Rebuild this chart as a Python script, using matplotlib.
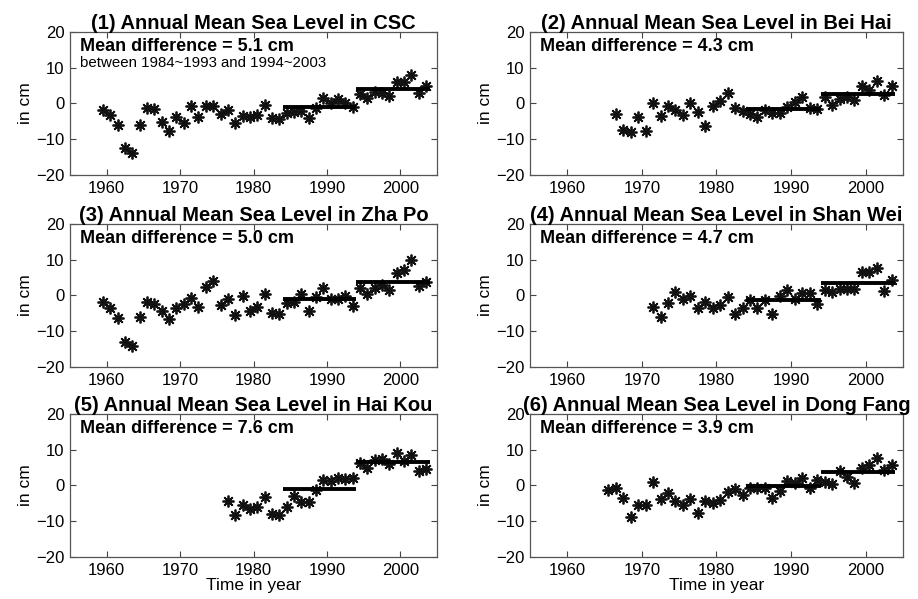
import numpy as np
import matplotlib
matplotlib.use("Agg")
import matplotlib.pyplot as plt

plt.rcParams['font.family'] = ['Liberation Sans', 'DejaVu Sans']

# Annual mean sea level anomalies (cm), one value per year starting at *_start
csc_start = 1959
csc_level = [-1.8, -3.2, -6.1, -12.5, -13.8, -6.1, -1.4, -1.6, -5.2, -7.7,
             -3.9, -5.4, -0.7, -3.9, -0.7, -0.6, -3.0, -1.8, -5.5, -3.6,
             -3.9, -3.2, -0.5, -4.1, -4.3, -2.7, -2.5, -2.1, -4.1, -1.2,
             1.4, 0.0, 1.2, 0.0, -0.9, 2.5, 1.4, 3.2, 3.0, 2.1,
             6.1, 5.9, 7.9, 3.0, 5.0]

beihai_start = 1966
beihai_level = [-2.9, -7.5, -7.9, -3.9, -7.7, 0.0, -3.6, -0.6, -1.8, -3.2,
                0.0, -2.5, -6.2, -0.6, 0.6, 3.0, -1.4, -2.1, -3.0, -3.9,
                -1.8, -2.7, -2.7, -0.9, 0.5, 1.8, -1.4, -1.5, 1.8, -0.5,
                1.2, 1.8, 1.1, 4.8, 3.8, 6.4, 2.3, 4.8]

zhapo_start = 1959
zhapo_level = [-1.8, -3.5, -6.3, -12.9, -14.0, -6.0, -1.8, -2.5, -4.3, -6.6,
               -3.4, -2.5, -0.6, -3.2, 2.3, 4.0, -2.8, -1.1, -5.4, -0.2,
               -4.3, -3.2, 0.5, -4.8, -5.3, -2.2, -1.8, 0.5, -4.3, -0.4,
               2.1, -0.9, -1.1, -0.2, -2.9, 2.1, 0.3, 2.1, 3.0, 1.4,
               6.2, 7.1, 9.8, 2.5, 3.7]

shanwei_start = 1971
shanwei_level = [-3.2, -5.9, -2.0, 1.0, -1.1, -0.2, -3.6, -1.8, -3.4, -2.7,
                 -0.4, -5.3, -3.6, -1.3, -3.4, -1.3, -5.3, -0.2, 1.4, -1.1,
                 0.6, 0.7, -2.3, 1.5, 0.9, 1.9, 1.9, 1.9, 6.5, 6.5,
                 7.7, 1.2, 4.4]

haikou_start = 1976
haikou_level = [-4.3, -8.4, -5.6, -6.5, -6.1, -3.3, -8.0, -8.3, -6.0, -2.9,
                -4.6, -4.6, -1.4, 1.5, 1.2, 2.1, 1.7, 2.1, 6.4, 4.9,
                7.0, 7.4, 6.0, 9.0, 6.9, 8.5, 4.1, 4.7]

dongfang_start = 1965
dongfang_level = [-1.3, -0.6, -3.6, -8.7, -5.5, -5.5, 0.9, -3.9, -2.0, -4.3,
                  -5.5, -3.9, -7.6, -4.3, -5.0, -4.1, -1.8, -1.1, -2.8, -0.6,
                  -0.6, -0.6, -3.4, -1.6, 1.2, 0.6, 2.1, -0.6, 1.5, 0.9,
                  0.3, 4.0, 2.4, 0.7, 4.9, 5.8, 7.6, 4.4, 5.8]

titles = ["(1) Annual Mean Sea Level in CSC",
          "(2) Annual Mean Sea Level in Bei Hai",
          "(3) Annual Mean Sea Level in Zha Po",
          "(4) Annual Mean Sea Level in Shan Wei",
          "(5) Annual Mean Sea Level in Hai Kou",
          "(6) Annual Mean Sea Level in Dong Fang"]
mean_diff = ["5.1", "4.3", "5.0", "4.7", "7.6", "3.9"]
period1 = (1984, 1994)
period2 = (1994, 2004)

stations = [(csc_start, csc_level), (beihai_start, beihai_level),
            (zhapo_start, zhapo_level), (shanwei_start, shanwei_level),
            (haikou_start, haikou_level), (dongfang_start, dongfang_level)]

fig = plt.figure(figsize=(9.18, 5.99), dpi=100)

# panel boxes in figure fractions (left, bottom, width, height)
col_left = [0.0763, 0.5773]
col_width = [0.3998, 0.4063]
row_bottom = [0.7078, 0.3873, 0.0701]
row_height = 0.239

for i, (start, level) in enumerate(stations):
    r, c = divmod(i, 2)
    ax = fig.add_axes([col_left[c], row_bottom[r], col_width[c], row_height])
    level = np.array(level)
    years = np.arange(start, start + len(level))
    ax.plot(years + 0.5, level, linestyle='none', marker=(8, 2, 0),
            markersize=8.5, markeredgewidth=1.3, color='#111111')

    # mean level of each decade as a thick bar
    for p0, p1 in (period1, period2):
        sel = (years >= p0) & (years < p1)
        m = level[sel].mean()
        ax.plot([p0, p1], [m, m], color='black', linewidth=2.8,
                solid_capstyle='butt')

    ax.set_xlim(1955, 2005)
    ax.set_ylim(-20, 20)
    ax.set_xticks([1960, 1970, 1980, 1990, 2000])
    ax.set_yticks([-20, -10, 0, 10, 20])
    ax.tick_params(direction='in', length=4, width=0.8, top=True, right=True,
                   labelsize=12, color='#444444', pad=4)
    for s in ax.spines.values():
        s.set_color('#555555')
        s.set_linewidth(0.9)
    ax.set_ylabel('in cm', fontsize=12.5, labelpad=2)
    ax.set_title(titles[i], fontsize=14.5, fontweight='bold', pad=2)
    ax.text(1956.4, 14.6, 'Mean difference = %s cm' % mean_diff[i],
            fontsize=13, fontweight='bold', va='baseline')
    if i == 0:
        ax.text(1956.4, 10.3, 'between 1984~1993 and 1994~2003',
                fontsize=10.8, va='baseline')
    if r == 2:
        ax.set_xlabel('Time in year', fontsize=12.5, labelpad=0)

fig.savefig('out.png', dpi=100)
